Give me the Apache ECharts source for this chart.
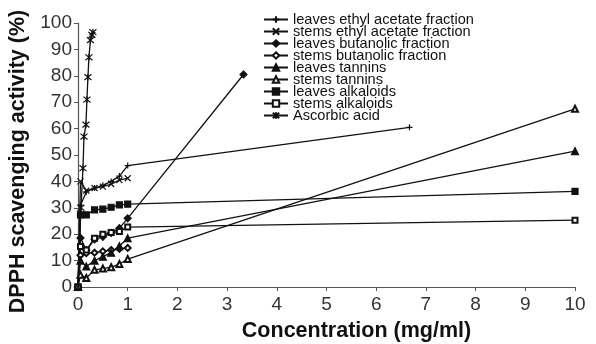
<!DOCTYPE html>
<html>
<head>
<meta charset="utf-8">
<script src="https://cdn.jsdelivr.net/npm/echarts@6/dist/echarts.min.js"></script>
<style>
  html, body { margin: 0; padding: 0; background: #fff; }
  #chart { width: 596px; height: 344px; }
</style>
</head>
<body>
<div id="chart"></div>
<script>
// concentrations (mg/ml)
const concLow = [0, 0.05, 0.167, 0.333, 0.5, 0.667, 0.833, 1]
const ascorbicConc = [0, 0.06, 0.1, 0.12, 0.16, 0.18, 0.2, 0.22, 0.25, 0.28, 0.3]

// scavenging activity (%) at concLow, plus one far point for some series
const leavesEthyl = [0, 31, 36, 37.5, 38.5, 40, 42, 46]
const leavesEthylFar = [6.67, 60.5]
const stemsEthyl = [0, 40, 36.5, 37.5, 38, 39, 40.5, 41.2]
const leavesButanol = [0, 18.6, 14, 18, 19, 20.5, 22.3, 26]
const leavesButanolFar = [3.33, 80.5]
const stemsButanol = [0, 12, 12.8, 13, 13.5, 14, 14.5, 14.8]
const leavesTannins = [0, 10, 7.8, 10, 11.5, 13, 15.5, 18.5]
const leavesTanninsFar = [10, 51.5]
const stemsTannins = [0, 4.6, 3.4, 6.5, 7, 7.5, 8.7, 10.6]
const stemsTanninsFar = [10, 67.5]
const leavesAlkaloids = [0, 27.3, 27.3, 29.2, 29.5, 30.2, 31.1, 31.4]
const leavesAlkaloidsFar = [10, 36.2]
const stemsAlkaloids = [0, 15.3, 14, 18.5, 20, 20.6, 21, 22.7]
const stemsAlkaloidsFar = [10, 25.3]
const ascorbic = [0, 30, 45, 57, 61.5, 71, 79.5, 87, 93.5, 95.5, 96.5]

const xTicks = [0, 1, 2, 3, 4, 5, 6, 7, 8, 9, 10]

// marker paths
const plusPath = 'path://M0,5L10,5M5,0L5,10'
const crossPath = 'path://M0,0L10,10M10,0L0,10'
const starPath = 'path://M0,0L10,10M10,0L0,10M5,-1L5,11'

const toPairs = (xs, ys, far) => {
  const pts = xs.map((x, i) => [x, ys[i]])
  if (far) pts.push(far)
  return pts
}

const seriesDefs = [
  { name: 'leaves ethyl acetate fraction', data: toPairs(concLow, leavesEthyl, leavesEthylFar), symbol: plusPath, size: 6 },
  { name: 'stems ethyl acetate fraction', data: toPairs(concLow, stemsEthyl), symbol: crossPath, size: 6 },
  { name: 'leaves butanolic fraction', data: toPairs(concLow, leavesButanol, leavesButanolFar), symbol: 'diamond', size: 7 },
  { name: 'stems butanolic fraction', data: toPairs(concLow, stemsButanol), symbol: 'emptyDiamond', size: 6 },
  { name: 'leaves tannins', data: toPairs(concLow, leavesTannins, leavesTanninsFar), symbol: 'triangle', size: 7 },
  { name: 'stems tannins', data: toPairs(concLow, stemsTannins, stemsTanninsFar), symbol: 'emptyTriangle', size: 6 },
  { name: 'leaves alkaloids', data: toPairs(concLow, leavesAlkaloids, leavesAlkaloidsFar), symbol: 'rect', size: 6 },
  { name: 'stems alkaloids', data: toPairs(concLow, stemsAlkaloids, stemsAlkaloidsFar), symbol: 'emptyRect', size: 5 },
  { name: 'Ascorbic acid', data: toPairs(ascorbicConc, ascorbic), symbol: starPath, size: 7 }
]

const chart = echarts.init(document.getElementById('chart'))

const series = seriesDefs.map((s) => ({
  name: s.name,
  type: 'line',
  data: s.data,
  symbol: s.symbol,
  symbolSize: s.size,
  showAllSymbol: true,
  smooth: false,
  animation: false,
  lineStyle: { color: '#111', width: 1.3 },
  itemStyle: { color: '#111', borderColor: '#111', borderWidth: 1.2 }
}))

const axisFont = 'Liberation Sans'

chart.setOption({
  animation: false,
  grid: { left: 78, right: 21, top: 23, bottom: 57, containLabel: false, outerBoundsMode: 'none' },
  legend: {
    orient: 'vertical',
    left: 263,
    top: 12,
    padding: 0,
    itemWidth: 24,
    itemHeight: 8,
    itemGap: -3,
    textStyle: { fontFamily: axisFont, fontSize: 14.6, lineHeight: 12.2, color: '#111' },
    data: seriesDefs.map((s) => s.name)
  },
  xAxis: {
    type: 'value',
    min: 0,
    max: 10,
    interval: 1,
    name: 'Concentration (mg/ml)',
    nameLocation: 'middle',
    nameGap: 33,
    nameTextStyle: { fontFamily: axisFont, fontSize: 21.5, fontWeight: 'bold', color: '#111', padding: [0, 0, 0, 60] },
    axisLine: { lineStyle: { color: '#555', width: 1.2 } },
    axisTick: { length: 4, lineStyle: { color: '#555' } },
    axisLabel: {
      fontFamily: axisFont, fontSize: 19, color: '#333', margin: 8,
      formatter: (v) => (xTicks.includes(v) ? String(v) : '')
    },
    splitLine: { show: false }
  },
  yAxis: {
    type: 'value',
    min: 0,
    max: 100,
    interval: 10,
    name: 'DPPH scavenging activity (%)',
    nameLocation: 'middle',
    nameGap: 42,
    nameRotate: 90,
    nameTextStyle: { fontFamily: axisFont, fontSize: 21.5, fontWeight: 'bold', color: '#111', padding: [0, 13, 0, 0] },
    axisLine: { show: true, lineStyle: { color: '#555', width: 1.2 } },
    axisTick: { show: true, length: 4, lineStyle: { color: '#555' } },
    axisLabel: { fontFamily: axisFont, fontSize: 19, color: '#333', margin: 6 },
    splitLine: { show: false }
  },
  series: series
})
</script>
</body>
</html>
